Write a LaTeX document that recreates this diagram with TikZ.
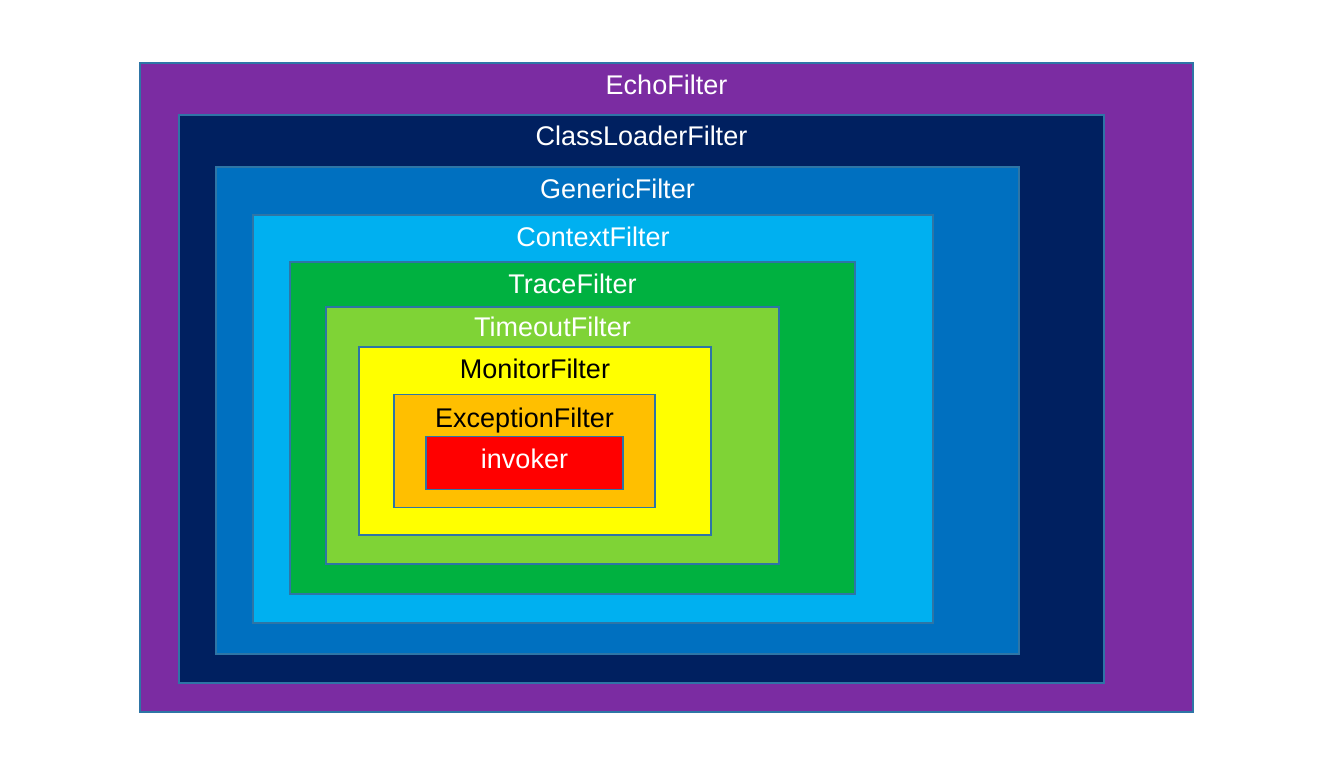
\documentclass[tikz,border=0pt]{standalone}
\usepackage{fontspec}
\setmainfont{Liberation Sans}
\definecolor{cEcho}{HTML}{7B2CA2}
\definecolor{cClass}{HTML}{002060}
\definecolor{cGeneric}{HTML}{0070C0}
\definecolor{cContext}{HTML}{00B0F0}
\definecolor{cTrace}{HTML}{00B140}
\definecolor{cTimeout}{HTML}{7FD336}
\definecolor{cMonitor}{HTML}{FFFF00}
\definecolor{cException}{HTML}{FFBF00}
\definecolor{cInvoker}{HTML}{FF0000}
\definecolor{cBorder}{HTML}{2E75A6}
\tikzset{
  box/.style={draw=cBorder, line width=1.8pt, inner sep=0pt, outer sep=0pt, rectangle},
  lbl/.style={anchor=base, inner sep=0pt, font=\fontsize{27}{31}\selectfont},
}
\begin{document}
\begin{tikzpicture}[x=1pt,y=-1pt]
\useasboundingbox (0,0) rectangle (1334,784);
\node[box, fill=cEcho, minimum width=1053pt, minimum height=649pt] (echo) at (666.5,387.5) {};
\node[lbl, text=white] (echo-l) at (666.5,95) {EchoFilter};
\node[box, fill=cClass, minimum width=925pt, minimum height=568pt] (cl) at (641.5,399) {};
\node[lbl, text=white] (cl-l) at (641.5,145.5) {ClassLoaderFilter};
\node[box, fill=cGeneric, minimum width=803pt, minimum height=487pt] (gen) at (617.5,410.5) {};
\node[lbl, text=white] (gen-l) at (617.5,198) {GenericFilter};
\node[box, fill=cContext, minimum width=680pt, minimum height=408pt] (ctx) at (593,419) {};
\node[lbl, text=white] (ctx-l) at (593,246.5) {ContextFilter};
\node[box, fill=cTrace, minimum width=565pt, minimum height=332pt] (trace) at (572.5,428) {};
\node[lbl, text=white] (trace-l) at (572.5,293.5) {TraceFilter};
\node[box, fill=cTimeout, minimum width=453pt, minimum height=257pt] (tmo) at (552.5,435.5) {};
\node[lbl, text=white] (tmo-l) at (552.5,336.5) {TimeoutFilter};
\node[box, fill=cMonitor, minimum width=352pt, minimum height=188pt] (mon) at (535,441) {};
\node[lbl, text=black] (mon-l) at (535,378.5) {MonitorFilter};
\node[box, fill=cException, minimum width=261pt, minimum height=113pt] (exc) at (524.5,451) {};
\node[lbl, text=black] (exc-l) at (524.5,427) {ExceptionFilter};
\node[box, fill=cInvoker, minimum width=197pt, minimum height=53pt] (inv) at (524.5,463) {};
\node[lbl, text=white] (inv-l) at (524.5,468.5) {invoker};
\end{tikzpicture}
\end{document}
